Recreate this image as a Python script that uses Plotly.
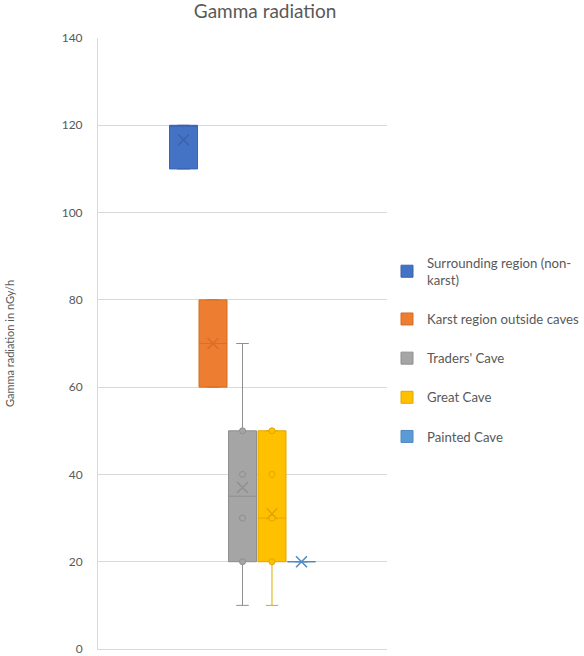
import plotly.graph_objects as go

series = ["Surrounding region (non-<br>karst)", "Karst region outside caves", "Traders' Cave", "Great Cave", "Painted Cave"]
q1 = [110, 60, 20, 20, 20]
median = [120, 70, 35, 30, 20]
q3 = [120, 80, 50, 50, 20]
lower = [110, 60, 10, 10, 20]
upper = [120, 80, 70, 50, 20]
means = [116.7, 70, 37, 31, 20]
inner_points = [[], [], [50, 40, 30, 20], [50, 40, 30, 20], []]
y_ticks = [0, 20, 40, 60, 80, 100, 120, 140]

fills = ["#4472C4", "#ED7D31", "#A5A5A5", "#FFC000", "#5B9BD5"]
lines = ["#3A63AE", "#D66F27", "#8F8F8F", "#E0A800", "#4F8AC4"]

fig = go.Figure()
for i, name in enumerate(series):
    fig.add_trace(go.Box(
        x=[i], q1=[q1[i]], median=[median[i]], q3=[q3[i]],
        lowerfence=[lower[i]], upperfence=[upper[i]],
        name=name, fillcolor=fills[i],
        line=dict(color=lines[i], width=1),
        width=0.95, whiskerwidth=0.45, boxpoints=False,
        legendgroup=str(i), showlegend=True,
    ))
    if inner_points[i]:
        fig.add_trace(go.Scatter(
            x=[i] * len(inner_points[i]), y=inner_points[i], mode="markers",
            marker=dict(symbol="circle", size=6, color=fills[i],
                        line=dict(color=lines[i], width=1)),
            showlegend=False, hoverinfo="skip", cliponaxis=False,
        ))
    fig.add_trace(go.Scatter(
        x=[i], y=[means[i]], mode="markers",
        marker=dict(symbol="x-thin", size=11, line=dict(color=lines[i], width=1.5)),
        showlegend=False, hoverinfo="skip",
    ))

fig.update_layout(
    width=584, height=656,
    margin=dict(l=98, r=197, t=38, b=7, autoexpand=False),
    paper_bgcolor="white", plot_bgcolor="white",
    font=dict(family="Lato, Open Sans, sans-serif", color="#595959", size=12),
    title=dict(text="Gamma radiation", font=dict(size=19, color="#595959"),
               xref="container", x=0.454, xanchor="center",
               yref="container", y=0.983, yanchor="middle"),
    showlegend=True,
    legend=dict(x=1.0, xanchor="left", y=0.657, yanchor="top",
                font=dict(size=13.2, color="#595959"),
                tracegroupgap=19, bgcolor="rgba(0,0,0,0)"),
    xaxis=dict(range=[-2.9, 6.9], showticklabels=False, showgrid=False,
               zeroline=False, showline=True, linecolor="#D9D9D9", ticks="",
               mirror=False),
    yaxis=dict(range=[0, 140], tickmode="array", tickvals=y_ticks,
               ticktext=[str(v) for v in y_ticks], ticklabeloverflow="allow",
               showgrid=True, gridcolor="#D9D9D9", automargin=False,
               gridwidth=1, zeroline=False, showline=True, linecolor="#D9D9D9",
               ticklabelstandoff=12, tickfont=dict(size=12, color="#595959"),
               title=dict(text="Gamma radiation in nGy/h", standoff=44,
                          font=dict(size=11, color="#595959"))),
)
fig.write_html("out.html")
